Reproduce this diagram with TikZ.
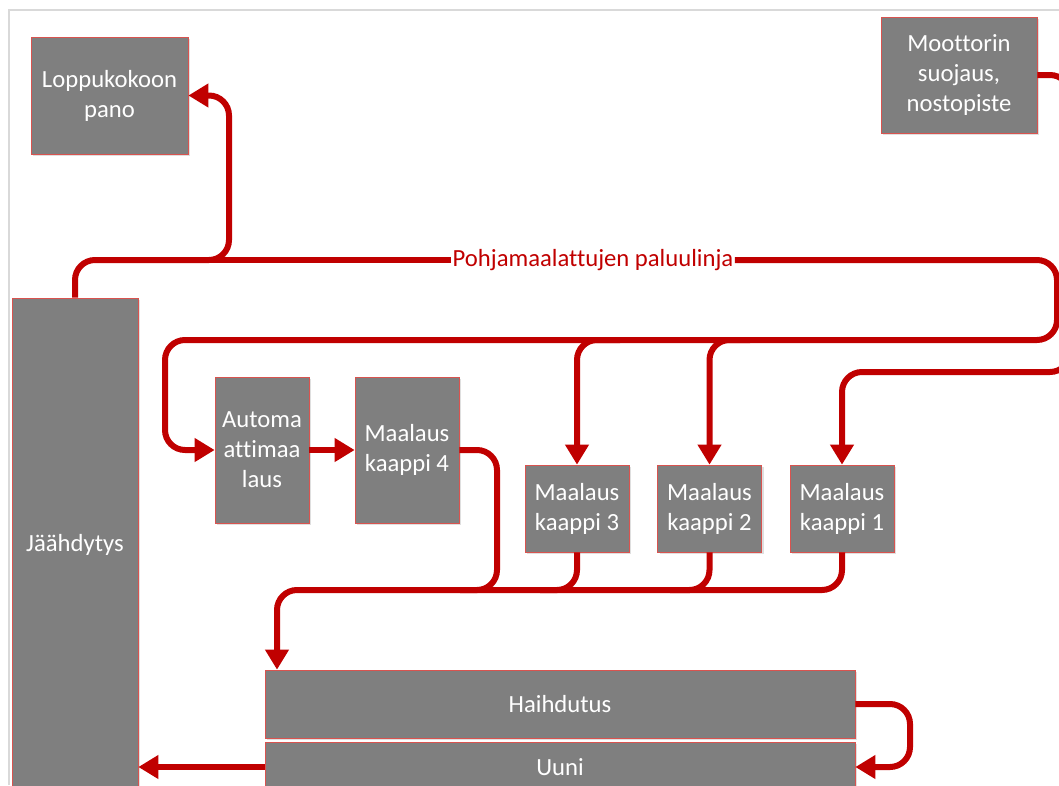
\documentclass[tikz,border=0pt]{standalone}
\usepackage{fontspec}
\setmainfont[Ligatures=NoCommon]{Carlito}
\usetikzlibrary{arrows.meta,shadows}
\definecolor{linered}{HTML}{C00000}
\definecolor{boxgray}{HTML}{7F7F7F}
\definecolor{edgered}{HTML}{D9534F}

\begin{document}
\begin{tikzpicture}[x=0.75pt, y=-0.75pt,
    box/.style={fill=boxgray, draw=edgered, line width=0.5pt, text=white, align=center,
      inner sep=0pt, font=\fontsize{18.5}{22.5}\selectfont,
      drop shadow={shadow xshift=1.5pt, shadow yshift=-1.5pt, opacity=0.25}},
    flow/.style={draw=linered, line width=4.5pt, rounded corners=15pt},
    arr/.style={flow, -{Triangle[length=15pt,width=17pt]}}]
  \useasboundingbox (0,0) rectangle (1059,785);
  \clip (0,0) rectangle (1059,785);

  % Frame
  \draw[black!15, line width=1.2pt] (9,785) -- (9,10) -- (1059,10);

  % Stations
  \node[box, minimum width=117.75pt, minimum height=87.75pt] (lopp) at (109.5,95.5) {Loppukokoon\\pano};
  \node[box, minimum width=117pt, minimum height=87pt] (moot) at (959,75) {Moottorin\\suojaus,\\nostopiste};
  \node[box, minimum width=94.5pt, minimum height=370.5pt] (jaah) at (75,545) {Jäähdytys};
  \node[box, minimum width=70.5pt, minimum height=109.5pt] (auto) at (262,450) {Automa\\attimaa\\laus};
  \node[box, minimum width=78pt, minimum height=109.5pt] (k4) at (407,450) {Maalaus\\kaappi 4};
  \node[box, minimum width=78pt, minimum height=65.25pt] (k3) at (577,508.5) {Maalaus\\kaappi 3};
  \node[box, minimum width=78pt, minimum height=65.25pt] (k2) at (709.5,508.5) {Maalaus\\kaappi 2};
  \node[box, minimum width=78pt, minimum height=65.25pt] (k1) at (842,508.5) {Maalaus\\kaappi 1};
  \node[box, minimum width=442.5pt, minimum height=51pt] (haih) at (560,704) {Haihdutus};
  \node[box, minimum width=442.5pt, minimum height=37.5pt] (uuni) at (560,767) {Uuni};

  % Return line
  \node[text=linered, font=\fontsize{18.5}{22.5}\selectfont, inner sep=1pt] (lab) at (593,260) {Pohjamaalattujen paluulinja};
  \draw[arr] (jaah.north) |- (229,260) |- (lopp.east);
  \draw[flow] (200,260) -- (lab.west);
  \draw[arr] (lab.east) -- (1057,260) -- (1057,340) -- (165,340) |- (auto.west);
  \draw[arr] (620,340) -| (k3.north);
  \draw[arr] (750,340) -| (k2.north);
  \draw[arr] (moot.east) -- (1070,75) -- (1070,372) -| (k1.north);

  % Painting
  \draw[arr] (auto.east) -- (k4.west);
  \draw[flow] (k4.east) -| (497,590) -- (460,590);
  \draw[flow] (k3.south) |- (540,590);
  \draw[flow] (k2.south) |- (670,590);
  \draw[arr] (k1.south) |- (277,590) -- (277,590 |- haih.north);

  % Oven
  \draw[arr] (haih.east) -- (910,704) |- (uuni.east);
  \draw[arr] (uuni.west) -- (uuni.west -| jaah.east);
\end{tikzpicture}
\end{document}
